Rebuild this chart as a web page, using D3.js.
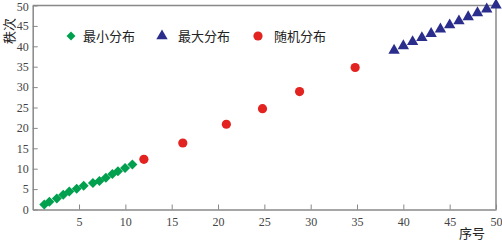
<!DOCTYPE html>
<html lang="zh">
<head>
<meta charset="utf-8" />
<title>秩次</title>
<script src="https://d3js.org/d3.v7.min.js"></script>
<style>
    body { margin: 0; background: #fff; }
    .tick text { font-family: "Liberation Serif", "DejaVu Serif", serif; font-size: 12px; fill: #444; }
    .cjk { font-family: "Noto Sans CJK SC", sans-serif; font-size: 13px; fill: #222; }
</style>
</head>
<body>
<svg width="502" height="241"></svg>
<script>
    // data
    var minX = [1.25, 1.8, 2.6, 3.3, 3.95, 4.75, 5.5, 6.5, 7.2, 7.9, 8.6, 9.2, 9.97, 10.76];
    var minY = [1.2, 1.9, 2.7, 3.6, 4.4, 5.1, 5.8, 6.5, 7.0, 7.8, 8.7, 9.4, 10.2, 11.0];
    var maxX = [39, 40, 41, 42, 43, 44, 45, 46, 47, 48, 49, 50];
    var maxY = [39, 40.1, 41.1, 42.1, 43.1, 44.2, 45.2, 46.2, 47.2, 48.2, 49.1, 50.1];
    var randX = [12, 16.2, 20.9, 24.8, 28.8, 34.8];
    var randY = [12.3, 16.3, 20.9, 24.7, 28.9, 34.8];
    var xTicks = [5, 10, 15, 20, 25, 30, 35, 40, 45, 50];
    var yTicks = [0, 5, 10, 15, 20, 25, 30, 35, 40, 45, 50];
    var legendNames = ["最小分布", "最大分布", "随机分布"];

    var svg = d3.select("svg"),
        margin = { top: 5.5, right: 6, bottom: 31.5, left: 32.7 },
        width = +svg.attr("width") - margin.left - margin.right,
        height = +svg.attr("height") - margin.top - margin.bottom;

    var x = d3.scaleLinear().domain([0, 50]).range([0, width]),
        y = d3.scaleLinear().domain([0, 50]).range([height, 0]);

    var g = svg.append("g")
        .attr("transform", "translate(" + margin.left + "," + margin.top + ")");

    var axisColor = "#888";

    // frame top / right
    g.append("line").attr("x1", 0).attr("x2", width).attr("y1", 0).attr("y2", 0)
        .attr("stroke", axisColor).attr("stroke-width", 1.5);
    g.append("line").attr("x1", width).attr("x2", width).attr("y1", 0).attr("y2", height)
        .attr("stroke", axisColor).attr("stroke-width", 1.5);

    var xAxis = g.append("g")
        .attr("transform", "translate(0," + height + ")")
        .call(d3.axisBottom(x).tickValues(xTicks).tickSizeInner(-5).tickSizeOuter(0).tickPadding(12));
    var yAxis = g.append("g")
        .call(d3.axisLeft(y).tickValues(yTicks).tickSizeInner(-5).tickSizeOuter(0).tickPadding(4));

    [xAxis, yAxis].forEach(function (a) {
        a.select(".domain").attr("stroke", axisColor).attr("stroke-width", 1.5);
        a.selectAll(".tick line").attr("stroke", axisColor);
    });
    xAxis.selectAll(".tick text").attr("dy", "0.4em");
    yAxis.selectAll(".tick text").filter(function (d) { return d === 50; }).attr("dy", "0.45em");

    var green = "#00a04e", blue = "#2b2d8c", red = "#e2231f";

    function sym(type, size) { return d3.symbol().type(type).size(size)(); }

    g.selectAll(".min").data(minX).enter().append("path")
        .attr("d", sym(d3.symbolSquare, 50))
        .attr("transform", function (d, i) { return "translate(" + x(d) + "," + y(minY[i]) + ") rotate(45)"; })
        .attr("fill", green);

    g.selectAll(".rand").data(randX).enter().append("circle")
        .attr("cx", function (d) { return x(d); })
        .attr("cy", function (d, i) { return y(randY[i]); })
        .attr("r", 4.6)
        .attr("fill", red);

    g.selectAll(".max").data(maxX).enter().append("path")
        .attr("d", sym(d3.symbolTriangle, 56))
        .attr("transform", function (d, i) { return "translate(" + x(d) + "," + y(maxY[i]) + ")"; })
        .attr("fill", blue);

    // legend
    var legend = svg.append("g").attr("transform", "translate(0,36)");
    legend.append("path").attr("d", sym(d3.symbolSquare, 40))
        .attr("transform", "translate(71,0) rotate(45)").attr("fill", green);
    legend.append("path").attr("d", sym(d3.symbolTriangle, 56))
        .attr("transform", "translate(162,0)").attr("fill", blue);
    legend.append("circle").attr("cx", 258).attr("cy", 0).attr("r", 4.6).attr("fill", red);
    [83, 178, 274].forEach(function (px, i) {
        legend.append("text").attr("class", "cjk").attr("x", px).attr("y", 5)
            .text(legendNames[i]);
    });

    // axis titles
    svg.append("text").attr("class", "cjk")
        .attr("transform", "translate(14,31) rotate(-90)")
        .attr("text-anchor", "middle")
        .text("秩次");
    svg.append("text").attr("class", "cjk")
        .attr("x", 472).attr("y", 238)
        .attr("text-anchor", "middle")
        .text("序号");
</script>
</body>
</html>
